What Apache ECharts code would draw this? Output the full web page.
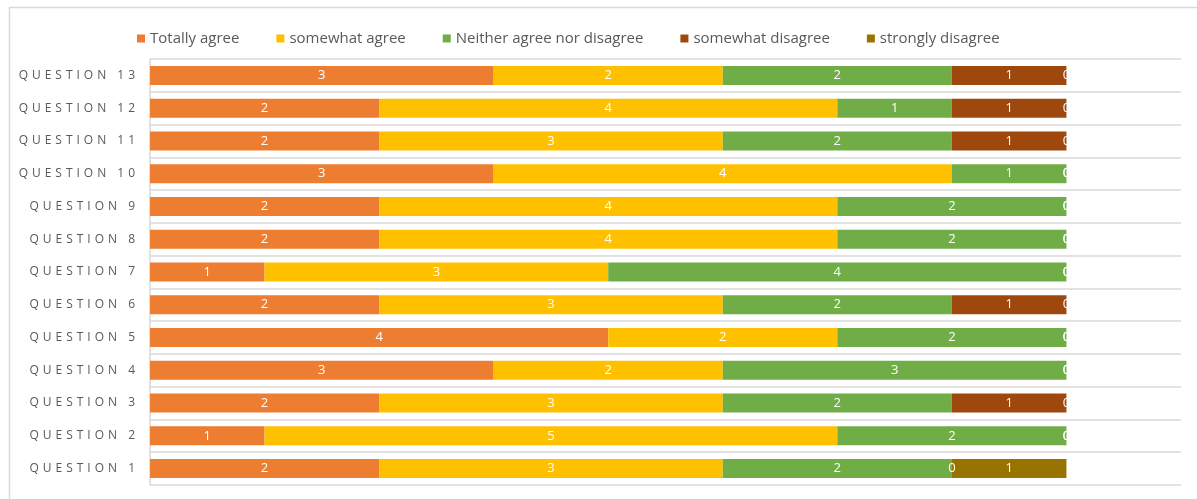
<!DOCTYPE html>
<html>
<head>
<meta charset="utf-8">
<script src="https://cdn.jsdelivr.net/npm/echarts@6/dist/echarts.min.js"></script>
<style>
	html, body { margin: 0; padding: 0; background: #fff; }
	#main { width: 1197px; height: 499px; }
</style>
</head>
<body>
<div id="main"></div>
<script>
// categories, bottom to top
var questions = ['QUESTION 1', 'QUESTION 2', 'QUESTION 3', 'QUESTION 4', 'QUESTION 5', 'QUESTION 6', 'QUESTION 7',
	'QUESTION 8', 'QUESTION 9', 'QUESTION 10', 'QUESTION 11', 'QUESTION 12', 'QUESTION 13']
var seriesNames = ['Totally agree', 'somewhat agree', 'Neither agree nor disagree', 'somewhat disagree', 'strongly disagree']
var totallyAgree = [2, 1, 2, 3, 4, 2, 1, 2, 2, 3, 2, 2, 3]
var somewhatAgree = [3, 5, 3, 2, 2, 3, 3, 4, 4, 4, 3, 4, 2]
var neitherAgree = [2, 2, 2, 3, 2, 2, 4, 2, 2, 1, 2, 1, 2]
var somewhatDisagree = [0, 0, 1, 0, 0, 1, 0, 0, 0, 0, 1, 1, 1]
var stronglyDisagree = [1, 0, 0, 0, 0, 0, 0, 0, 0, 0, 0, 0, 0]

var colors = ['#ED7D31', '#FFC000', '#70AD47', '#9E480E', '#997300']
var allData = [totallyAgree, somewhatAgree, neitherAgree, somewhatDisagree, stronglyDisagree]

var myChart = echarts.init(document.getElementById('main'))

var series = seriesNames.map(function(name, i) {
	return {
		name: name,
		type: 'bar',
		stack: 'total',
		barWidth: 19,
		data: allData[i],
		itemStyle: { color: colors[i] },
		label: {
			show: true,
			position: 'inside',
			color: '#ffffff',
			fontFamily: 'Open Sans',
			fontSize: 13
		}
	}
})

var option = {
	animation: false,
	color: colors,
	graphic: [{
		type: 'rect',
		shape: { x: 9.5, y: 7.5, width: 1200, height: 500 },
		style: { fill: 'none', stroke: '#d9d9d9', lineWidth: 1.5 },
		silent: true
	}],
	legend: {
		data: seriesNames,
		left: 132,
		top: 26,
		itemWidth: 8,
		itemHeight: 8,
		itemGap: 37,
		icon: 'rect',
		textStyle: {
			color: '#595959',
			fontFamily: 'Open Sans',
			fontSize: 15
		}
	},
	grid: {
		left: 150,
		right: 16,
		top: 59,
		bottom: 14
	},
	xAxis: {
		type: 'value',
		min: 0,
		max: 9,
		axisLabel: { show: false },
		axisLine: { show: false },
		axisTick: { show: false },
		splitLine: { show: false }
	},
	yAxis: {
		type: 'category',
		data: questions,
		axisLine: { show: true, lineStyle: { color: '#d9d9d9', width: 1.5 } },
		axisTick: { show: false },
		splitLine: { show: true, lineStyle: { color: '#d9d9d9', width: 1.5 } },
		axisLabel: {
			color: '#595959',
			fontFamily: 'Open Sans',
			fontSize: 12,
			margin: 15,
			// spread the letters like the original
			formatter: function(v) { return v.split('').join('\u2009\u2009') }
		}
	},
	series: series
}

option && myChart.setOption(option)
</script>
</body>
</html>
